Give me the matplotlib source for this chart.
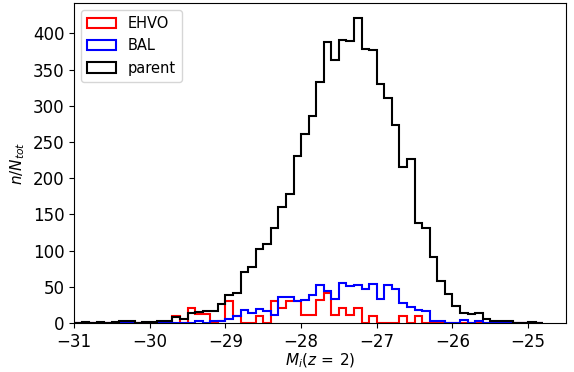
import numpy as np
import matplotlib
matplotlib.use('Agg')
import matplotlib.pyplot as plt

# Bin edges: 0.1 mag bins from -31.0 to -24.8
edges = np.round(np.arange(-31.0, -24.75, 0.1), 2)
centers = 0.5 * (edges[:-1] + edges[1:])

# Histogram heights, one per bin (left edge -31.0, -30.9, ...)
parent = [0, 1, 0, 1, 0, 1, 2, 2, 0, 1,
          1, 3, 3, 8, 5, 13, 15, 16, 17, 26,
          39, 41, 71, 77, 102, 109, 131, 160, 178, 230,
          261, 286, 333, 388, 363, 391, 389, 421, 379, 377,
          330, 311, 273, 215, 226, 138, 131, 91, 58, 40,
          24, 13, 12, 14, 5, 3, 2, 2, 0, 0,
          1, 0]
ehvo = [0, 0, 0, 0, 0, 0, 0, 0, 0, 0,
        0, 0, 0, 10, 0, 20, 12, 12, 0, 3,
        30, 10, 0, 0, 10, 0, 30, 20, 30, 30,
        11, 11, 32, 41, 11, 20, 11, 20, 0, 10,
        0, 0, 0, 10, 0, 10, 0, 0, 0, 0,
        0, 0, 0, 0, 0, 0, 0, 0, 0, 0,
        0, 0]
bal = [0, 0, 0, 0, 0, 0, 0, 0, 0, 0,
       0, 0, 0, 0, 0, 0, 2, 0, 2, 2,
       6, 9, 18, 14, 19, 16, 11, 36, 36, 30,
       31, 39, 52, 44, 33, 55, 51, 53, 47, 54,
       33, 52, 47, 28, 22, 18, 16, 2, 2, 0,
       0, 4, 0, 2, 0, 0, 0, 0, 0, 0,
       0, 0]

fig, ax = plt.subplots(figsize=(5.74, 3.72), dpi=100)
fig.subplots_adjust(left=0.129, right=0.986, bottom=0.132, top=0.992)

ax.hist(centers, bins=edges, weights=ehvo, histtype='step', color='r', lw=1.5, label='EHVO')
ax.hist(centers, bins=edges, weights=bal, histtype='step', color='b', lw=1.5, label='BAL')
ax.hist(centers, bins=edges, weights=parent, histtype='step', color='k', lw=1.5, label='parent')

ax.set_xlim(-31.0, -24.5)
ax.set_xticks([-31, -30, -29, -28, -27, -26, -25])
ax.tick_params(labelsize=12)
ax.set_xlabel(r'$M_i(z\,=\,2)$', fontsize=11, labelpad=1)
ax.set_ylabel(r'$n/N_{tot}$', fontsize=11)
ax.legend(loc='upper left', fontsize=10.5)

fig.savefig('out.png', dpi=100)
